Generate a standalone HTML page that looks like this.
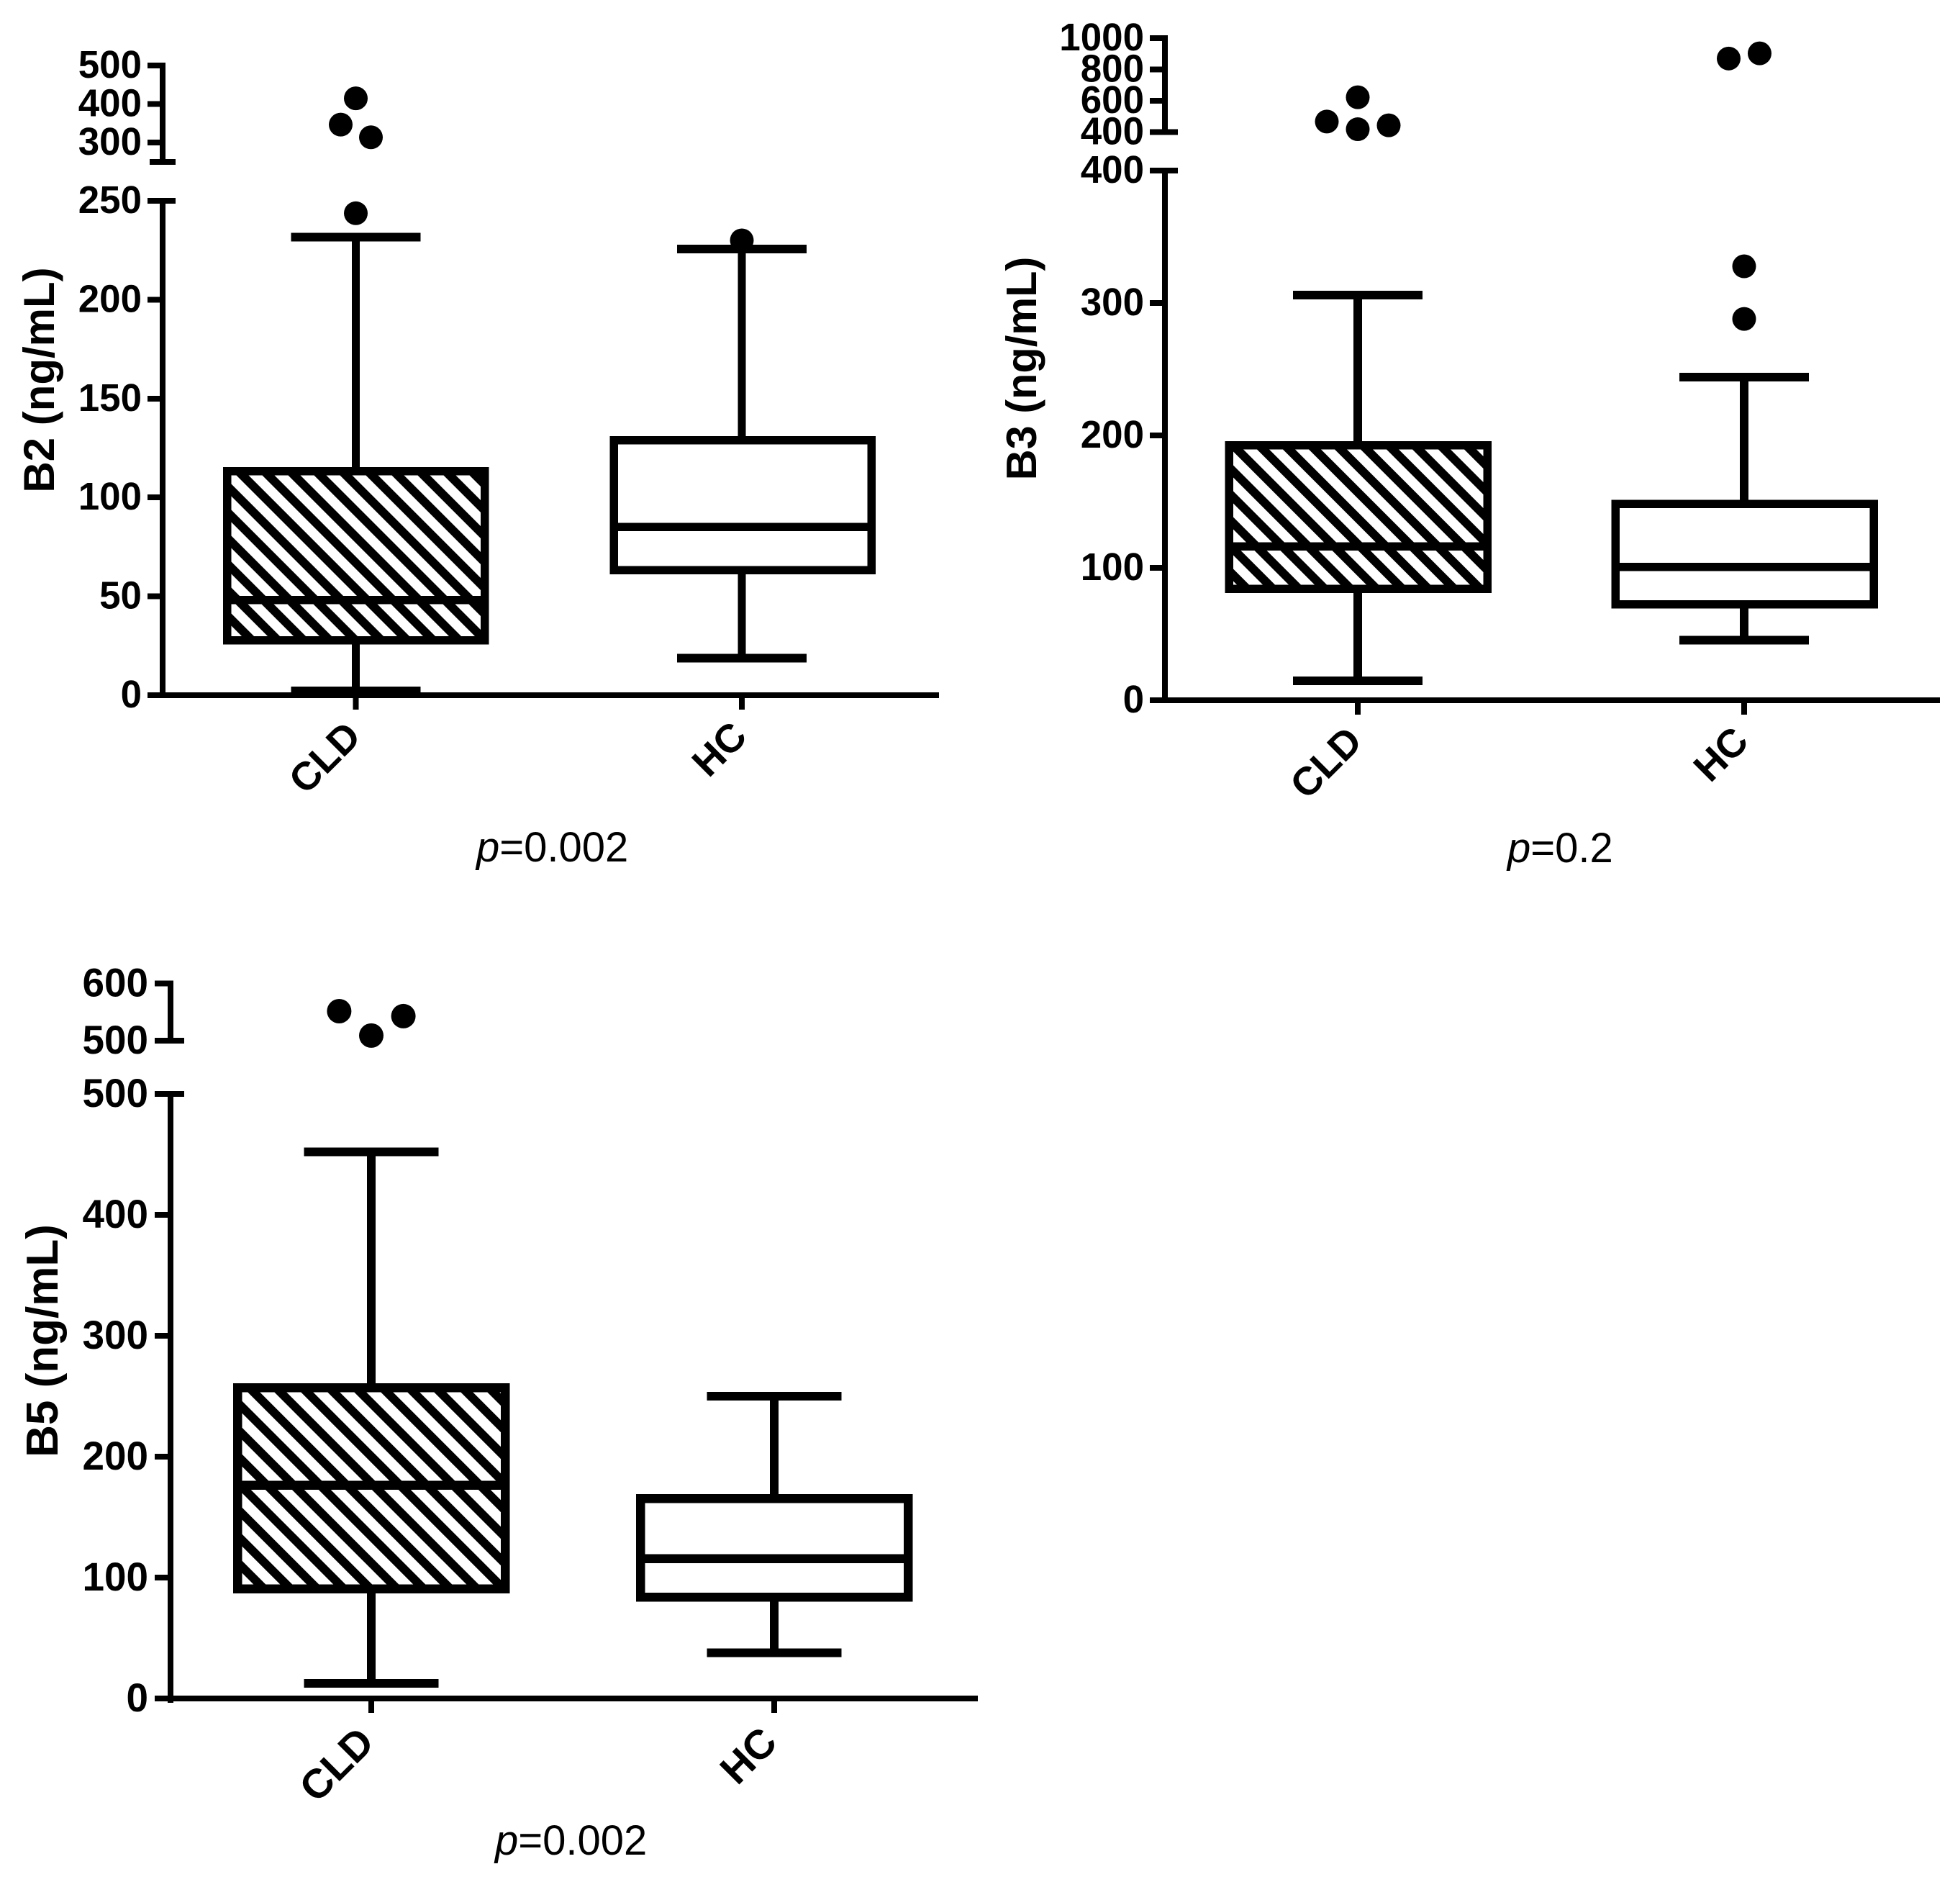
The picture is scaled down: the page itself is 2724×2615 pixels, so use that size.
<!DOCTYPE html>
<html lang="en">
<head>
<meta charset="utf-8">
<title>B2, B3 and B5 box plots: CLD vs HC</title>
<style>
  html, body { margin: 0; padding: 0; background: #fff; }
  svg { display: block; }
  text { fill: #000; font-family: "Liberation Sans", Arial, sans-serif; }
  .tick-label, .cat-label, .axis-title { font-weight: 700; }
</style>
</head>
<body>
<svg id="figure" xmlns="http://www.w3.org/2000/svg" width="2724" height="2615" viewBox="0 0 2724 2615">
  <rect x="0" y="0" width="2724" height="2615" fill="#fff"/>
</svg>
<script>
const categories = ['CLD', 'HC'];

const b2TicksLower = [0, 50, 100, 150, 200, 250];
const b2TicksUpper = [300, 400, 500];
const b2Q1 = [27.7, 63.2];
const b2Median = [48.1, 85.1];
const b2Q3 = [113.2, 129];
const b2WhiskerLow = [2.2, 18.8];
const b2WhiskerHigh = [231.7, 225.7];
const b2OutliersCLD = [414.8, 346.6, 313.7, 243.7];
const b2SlotsCLD = [0, -1, 1, 0];
const b2OutliersHC = [230];
const b2SlotsHC = [0];

const b3TicksLower = [0, 100, 200, 300, 400];
const b3TicksUpper = [400, 600, 800, 1000];
const b3Q1 = [84.1, 72.4];
const b3Median = [116.3, 100.8];
const b3Q3 = [192.6, 148.2];
const b3WhiskerLow = [14.6, 45.4];
const b3WhiskerHigh = [306, 244];
const b3OutliersCLD = [622.8, 468, 419, 443.7];
const b3SlotsCLD = [0, -2, 0, 2];
const b3OutliersHC = [870, 903, 327.7, 288];
const b3SlotsHC = [-1, 1, 0, 0];

const b5TicksLower = [0, 100, 200, 300, 400, 500];
const b5TicksUpper = [500, 600];
const b5Q1 = [90.5, 83.9];
const b5Median = [176.2, 115.5];
const b5Q3 = [256.8, 165.2];
const b5WhiskerLow = [12.5, 37.9];
const b5WhiskerHigh = [451.9, 249.8];
const b5OutliersCLD = [551.7, 509, 543];
const b5SlotsCLD = [-2, 0, 2];
const b5OutliersHC = [];
const b5SlotsHC = [];

const NS = 'http://www.w3.org/2000/svg';
const root = document.getElementById('figure');

function mk(parent, tag, attrs, txt) {
  const el = document.createElementNS(NS, tag);
  for (const k in attrs) el.setAttribute(k, attrs[k]);
  if (txt !== undefined) el.textContent = txt;
  parent.appendChild(el);
  return el;
}
function seg(parent, x1, y1, x2, y2, w) {
  return mk(parent, 'line', { x1, y1, x2, y2, stroke: '#000', 'stroke-width': w, 'shape-rendering': 'crispEdges' });
}
function axisScale(domain, range) {
  return v => range[0] + (v - domain[0]) * (range[1] - range[0]) / (domain[1] - domain[0]);
}

function drawPanel(id, g, d) {
  const panel = mk(root, 'g', {});
  
  

  const yLow = axisScale(g.lowDomain, g.lowRange);
  const yUp = axisScale(g.upDomain, g.upRange);
  const xCat = i => g.cx[i];

  const clip = mk(panel, 'clipPath', { id: id + '-clip' });
  
  

  // boxes and whiskers
  categories.forEach((cat, i) => {
    const cx = xCat(i);
    const bx = g.boxCx[i] - g.boxHalf;
    const bw = g.boxHalf * 2;
    const top = yLow(d.q3[i]);
    const bot = yLow(d.q1[i]);

    const stemHigh = seg(panel, cx, yLow(d.hi[i]), cx, top, g.stem);
    
    

    const stemLow = seg(panel, cx, bot, cx, yLow(d.lo[i]), g.stem);
    
    

    const capHigh = seg(panel, cx - g.capHalf, yLow(d.hi[i]), cx + g.capHalf, yLow(d.hi[i]), g.cap);
    
    

    const capLow = seg(panel, cx - g.capHalf, yLow(d.lo[i]), cx + g.capHalf, yLow(d.lo[i]), g.cap);
    
    

    const fill = mk(panel, 'rect', { x: bx, y: top, width: bw, height: bot - top, fill: '#fff' });
    
    

    if (i === 0) {
      const cr = mk(clip, 'rect', { x: bx, y: top, width: bw, height: bot - top });
      
      
      const hatch = mk(panel, 'g', { 'clip-path': 'url(#' + id + '-clip)' });
      
      
      const first = Math.floor((bx - bot - g.hatchPhase) / g.hatchPeriod) - 1;
      const last = Math.ceil((bx + bw - top - g.hatchPhase) / g.hatchPeriod) + 1;
      for (let k = first; k <= last; k++) {
        const c = g.hatchPhase + k * g.hatchPeriod;
        const h = mk(hatch, 'line', { x1: c + top - 20, y1: top - 20, x2: c + bot + 20, y2: bot + 20, stroke: '#000', 'stroke-width': g.hatchWidth });
        
        
      }
    }

    const box = mk(panel, 'rect', { x: bx, y: top, width: bw, height: bot - top, fill: 'none', stroke: '#000', 'stroke-width': g.boxStroke, 'shape-rendering': 'crispEdges' });
    
    

    const med = seg(panel, bx, yLow(d.median[i]), bx + bw, yLow(d.median[i]), g.boxStroke);
    
    
  });

  // axes
  const yAxisLow = seg(panel, g.axisX, yLow(g.lowDomain[1]) - 4, g.axisX, g.lowRange[0] + g.axisTail, g.axisW);
  
  

  const yAxisUp = seg(panel, g.axisX, yUp(g.upDomain[1]) - 4, g.axisX, yUp(g.upDomain[0]), g.axisW);
  
  

  const xAxis = seg(panel, g.xStart, g.lowRange[0], g.xEnd, g.lowRange[0], g.axisW);
  
  

  const breakCap = seg(panel, g.breakLeft, yUp(g.upDomain[0]), g.axisX + g.capRight, yUp(g.upDomain[0]), g.axisW);
  
  

  const breakTop = seg(panel, g.axisX, yLow(g.lowDomain[1]), g.axisX + g.capRight, yLow(g.lowDomain[1]), g.axisW);
  
  

  // y ticks
  d.ticksLow.forEach(v => {
    const t = seg(panel, g.xStart, yLow(v), g.axisX, yLow(v), g.axisW);
    
    
    const lab = mk(panel, 'text', { class: 'tick-label', 'text-anchor': 'end', 'font-size': g.tickFont, transform: 'translate(' + g.labelRight + ',' + (yLow(v) + g.labelDy) + ') scale(0.98,1)' }, String(v));
    
    
  });
  d.ticksUp.forEach(v => {
    const t = seg(panel, g.xStart, yUp(v), g.axisX, yUp(v), g.axisW);
    
    
    const lab = mk(panel, 'text', { class: 'tick-label', 'text-anchor': 'end', 'font-size': g.tickFont, transform: 'translate(' + g.labelRight + ',' + (yUp(v) + g.labelDy) + ') scale(0.98,1)' }, String(v));
    
    
  });

  // x ticks and category labels
  categories.forEach((cat, i) => {
    const cx = xCat(i);
    const t = seg(panel, cx, g.lowRange[0], cx, g.lowRange[0] + 20, g.axisW);
    
    
    const ax = cx + g.catDx;
    const ay = g.lowRange[0] + g.catDy;
    const lab = mk(panel, 'text', { class: 'cat-label', 'text-anchor': 'end', 'font-size': g.catFont, transform: 'translate(' + ax + ',' + ay + ') rotate(-45)' }, cat);
    
    
  });

  // outliers
  const yOut = v => (v > g.lowDomain[1] ? yUp(v) : yLow(v));
  d.outCLD.forEach((v, j) => {
    const c = mk(panel, 'circle', { cx: xCat(0) + d.slotCLD[j] * g.slotUnit, cy: yOut(v), r: g.dot, fill: '#000' });
    
    
  });
  d.outHC.forEach((v, j) => {
    const c = mk(panel, 'circle', { cx: xCat(1) + d.slotHC[j] * g.slotUnit, cy: yOut(v), r: g.dot, fill: '#000' });
    
    
  });

  // titles
  const title = mk(panel, 'text', { class: 'axis-title', 'text-anchor': 'middle', 'font-size': g.titleFont, transform: 'translate(' + g.titleX + ',' + g.titleY + ') rotate(-90)' }, g.title);
  
  

  const p = mk(panel, 'text', { x: g.pX, y: g.pY, 'font-size': 58 });
  
  
  const pi = mk(p, 'tspan', { 'font-style': 'italic' }, 'p');
  
  
  const pv = mk(p, 'tspan', {}, '=' + g.pValue);
  
  
}

drawPanel('b2', {
  title: 'B2 (ng/mL)', titleX: 75, titleY: 528, titleFont: 60,
  pValue: '0.002', pX: 662, pY: 1197,
  lowDomain: [0, 250], lowRange: [966, 279],
  upDomain: [250, 500], upRange: [224.9, 91],
  axisX: 226, axisW: 8, axisTail: 4, xStart: 205, xEnd: 1305, breakLeft: 208, capRight: 18,
  labelRight: 197, labelDy: 17, tickFont: 54,
  catDx: 10, catDy: 60, catFont: 55,
  cx: [494.5, 1031], boxCx: [494.75, 1032], boxHalf: 179, boxStroke: 11.5, stem: 11, cap: 12, capHalf: 90,
  hatchPeriod: 36, hatchPhase: 0.5, hatchWidth: 12, dot: 16.5, slotUnit: 21
}, {
  ticksLow: b2TicksLower, ticksUp: b2TicksUpper, q1: b2Q1, median: b2Median, q3: b2Q3,
  lo: b2WhiskerLow, hi: b2WhiskerHigh, outCLD: b2OutliersCLD, slotCLD: b2SlotsCLD, outHC: b2OutliersHC, slotHC: b2SlotsHC
});

drawPanel('b3', {
  title: 'B3 (ng/mL)', titleX: 1440, titleY: 512, titleFont: 59.5,
  pValue: '0.2', pX: 2095, pY: 1198,
  lowDomain: [0, 400], lowRange: [973, 237],
  upDomain: [400, 1000], upRange: [183.7, 53],
  axisX: 1619, axisW: 8, axisTail: 4, xStart: 1598, xEnd: 2696, breakLeft: 1598, capRight: 18,
  labelRight: 1590, labelDy: 17, tickFont: 54,
  catDx: 9, catDy: 60, catFont: 55,
  cx: [1887, 2424], boxCx: [1887.5, 2424.5], boxHalf: 179.5, boxStroke: 11.5, stem: 12, cap: 12, capHalf: 90,
  hatchPeriod: 36, hatchPhase: 15, hatchWidth: 12, dot: 16.5, slotUnit: 21.5
}, {
  ticksLow: b3TicksLower, ticksUp: b3TicksUpper, q1: b3Q1, median: b3Median, q3: b3Q3,
  lo: b3WhiskerLow, hi: b3WhiskerHigh, outCLD: b3OutliersCLD, slotCLD: b3SlotsCLD, outHC: b3OutliersHC, slotHC: b3SlotsHC
});

drawPanel('b5', {
  title: 'B5 (ng/mL)', titleX: 80, titleY: 1863, titleFont: 62,
  pValue: '0.002', pX: 688, pY: 2577,
  lowDomain: [0, 500], lowRange: [2360, 1519.8],
  upDomain: [500, 600], upRange: [1446, 1366.7],
  axisX: 237, axisW: 8, axisTail: 6, xStart: 215, xEnd: 1359, breakLeft: 215, capRight: 19,
  labelRight: 206, labelDy: 18, tickFont: 56,
  catDx: 7, catDy: 64, catFont: 57,
  cx: [516, 1076], boxCx: [516.25, 1076], boxHalf: 186, boxStroke: 12.5, stem: 12, cap: 12, capHalf: 93.5,
  hatchPeriod: 37, hatchPhase: 9.3, hatchWidth: 12, dot: 17, slotUnit: 22.3
}, {
  ticksLow: b5TicksLower, ticksUp: b5TicksUpper, q1: b5Q1, median: b5Median, q3: b5Q3,
  lo: b5WhiskerLow, hi: b5WhiskerHigh, outCLD: b5OutliersCLD, slotCLD: b5SlotsCLD, outHC: b5OutliersHC, slotHC: b5SlotsHC
});
</script>
</body>
</html>
